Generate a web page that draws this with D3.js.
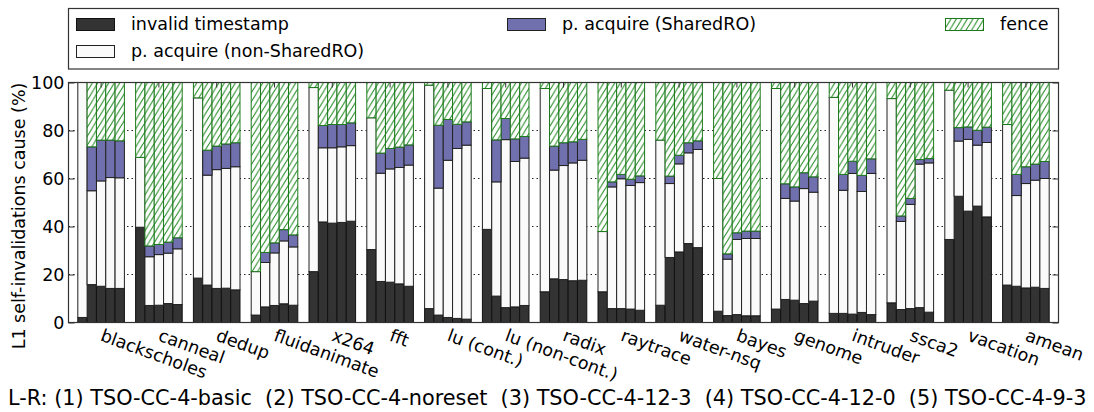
<!DOCTYPE html>
<html>
<head>
<meta charset="utf-8">
<script src="https://cdn.jsdelivr.net/npm/d3@7"></script>
<style>
  html, body { margin: 0; padding: 0; background: #fff; }
  svg { display: block; font-family: "DejaVu Sans", sans-serif; }
</style>
</head>
<body>
<svg id="chart" width="1094" height="412"></svg>
<script>
// Benchmarks (x groups) and protocol configurations (bars within a group, left to right)
const benchmarks = ["blackscholes", "canneal", "dedup", "fluidanimate", "x264", "fft",
  "lu (cont.)", "lu (non-cont.)", "radix", "raytrace", "water-nsq", "bayes", "genome",
  "intruder", "ssca2", "vacation", "amean"];
const configs = ["TSO-CC-4-basic", "TSO-CC-4-noreset", "TSO-CC-4-12-3", "TSO-CC-4-12-0", "TSO-CC-4-9-3"];

// Breakdown of L1 self-invalidation causes (%), one row per benchmark, one value per config
const invalidTimestamp = [
  [2.1, 15.8, 15.1, 14.2, 14.2],
  [39.7, 7.1, 7.2, 7.9, 7.5],
  [18.5, 15.6, 14.2, 14.3, 13.6],
  [3.1, 6.5, 7.1, 7.8, 7.2],
  [21.2, 41.9, 41.4, 41.7, 42.2],
  [30.4, 17.1, 16.8, 16.1, 15.1],
  [5.8, 3.1, 2.1, 1.7, 1.4],
  [38.8, 11.0, 6.2, 6.5, 7.1],
  [12.8, 18.2, 17.9, 17.4, 17.6],
  [12.8, 5.8, 5.8, 5.6, 5.1],
  [7.2, 27.1, 29.4, 32.9, 31.2],
  [4.7, 2.9, 3.3, 2.8, 2.8],
  [5.6, 9.6, 9.3, 7.9, 8.9],
  [3.8, 3.8, 3.5, 4.2, 3.3],
  [8.2, 5.4, 5.8, 6.2, 4.3],
  [34.6, 52.6, 46.4, 48.5, 44.0],
  [15.6, 15.1, 14.4, 14.7, 14.2]
];
const acquireNonShared = [
  [97.9, 39.1, 43.9, 46.2, 46.1],
  [29.1, 20.3, 21.1, 21.0, 23.2],
  [75.1, 45.8, 49.5, 49.9, 51.3],
  [18.1, 18.5, 21.9, 26.2, 24.3],
  [76.7, 30.9, 31.4, 31.5, 31.5],
  [54.9, 45.1, 47.2, 48.5, 50.5],
  [93.1, 52.9, 65.5, 70.8, 72.5],
  [58.7, 47.6, 70.0, 60.6, 61.4],
  [84.7, 45.3, 47.5, 49.1, 50.0],
  [25.1, 50.7, 54.1, 51.5, 53.2],
  [68.8, 30.8, 36.7, 37.8, 40.9],
  [55.3, 23.5, 31.3, 32.2, 32.2],
  [91.9, 42.1, 41.3, 47.9, 45.4],
  [90.0, 51.3, 58.6, 50.4, 58.8],
  [85.1, 36.7, 43.4, 59.8, 62.2],
  [62.2, 23.0, 29.9, 25.4, 31.0],
  [66.9, 37.8, 43.5, 44.6, 45.8]
];
const acquireShared = [
  [0, 18.3, 17.0, 15.6, 15.4],
  [0, 4.5, 4.2, 4.6, 4.6],
  [0, 10.4, 9.8, 10.2, 10.0],
  [0, 4.2, 4.2, 4.7, 5.0],
  [0, 9.3, 9.7, 9.3, 9.5],
  [0, 8.4, 8.5, 8.5, 8.4],
  [0, 26.2, 17.0, 10.1, 9.7],
  [0, 17.5, 8.8, 9.4, 9.0],
  [0, 10.0, 9.5, 8.8, 8.7],
  [0, 2.1, 1.8, 2.6, 2.8],
  [0, 3.1, 3.6, 4.2, 3.6],
  [0, 2.2, 2.8, 3.1, 3.1],
  [0, 6.1, 5.9, 6.6, 6.4],
  [0, 6.6, 5.1, 6.7, 6.1],
  [0, 2.3, 2.5, 1.9, 1.8],
  [0, 5.6, 5.2, 6.2, 6.4],
  [0, 8.8, 7.0, 6.7, 7.1]
];
const fence = [
  [0, 26.8, 24.0, 24.0, 24.3],
  [31.2, 68.1, 67.5, 66.5, 64.7],
  [6.4, 28.2, 26.5, 25.6, 25.1],
  [78.8, 70.8, 66.8, 61.3, 63.5],
  [2.1, 17.9, 17.5, 17.5, 16.8],
  [14.7, 29.4, 27.5, 26.9, 26.0],
  [1.1, 17.8, 15.4, 17.4, 16.4],
  [2.5, 23.9, 15.0, 23.5, 22.5],
  [2.5, 26.5, 25.1, 24.7, 23.7],
  [62.1, 41.4, 38.3, 40.3, 38.9],
  [24.0, 39.0, 30.3, 25.1, 24.3],
  [40.0, 71.4, 62.6, 61.9, 61.9],
  [2.5, 42.2, 43.5, 37.6, 39.3],
  [6.2, 38.3, 32.8, 38.7, 31.8],
  [6.7, 55.6, 48.3, 32.1, 31.7],
  [3.2, 18.8, 18.5, 19.9, 18.6],
  [17.5, 38.3, 35.1, 34.0, 32.9]
];

const seriesKeys = ["invalid", "nonShared", "shared", "fence"];
const seriesLabels = {
  invalid: "invalid timestamp",
  nonShared: "p. acquire (non-SharedRO)",
  shared: "p. acquire (SharedRO)",
  fence: "fence"
};
const yTicks = [0, 20, 40, 60, 80, 100];
const yTitle = "L1 self-invalidations cause (%)";
const caption = "L-R: (1) TSO-CC-4-basic  (2) TSO-CC-4-noreset  (3) TSO-CC-4-12-3  (4) TSO-CC-4-12-0  (5) TSO-CC-4-9-3";

// Flatten into one row per bar
const rows = [];
benchmarks.forEach((b, i) => {
  configs.forEach((c, j) => {
    rows.push({
      bench: b, config: c,
      invalid: invalidTimestamp[i][j],
      nonShared: acquireNonShared[i][j],
      shared: acquireShared[i][j],
      fence: fence[i][j]
    });
  });
});

const svg = d3.select("#chart");
const FS = 17.5;
const plot = { left: 68.5, right: 1058.5, top: 82.5, bottom: 322.5 };

const x0 = d3.scaleBand().domain(benchmarks)
  .range([plot.left, plot.right]).paddingInner(0.194).paddingOuter(0.161);
const x1 = d3.scaleBand().domain(configs).range([0, x0.bandwidth()]);
const y = d3.scaleLinear().domain([0, 100]).range([plot.bottom, plot.top]);

const fills = { invalid: "#333333", nonShared: "#fafafa", shared: "#7070ae", fence: "url(#hatch)" };
const strokes = { invalid: "#111", nonShared: "#222", shared: "#222", fence: "#1c7a1c" };

// Diagonal hatch used for the fence segments
const defs = svg.append("defs");
const pat = defs.append("pattern").attr("id", "hatch")
  .attr("patternUnits", "userSpaceOnUse").attr("width", 5.5).attr("height", 9);
pat.append("rect").attr("width", 5.5).attr("height", 9).attr("fill", "#fff");
pat.append("path")
  .attr("d", "M0,9 L5.5,0 M-5.5,9 L0,0 M5.5,9 L11,0")
  .attr("stroke", "#2b8f2b").attr("stroke-width", 1.1).attr("fill", "none");

// Dotted horizontal grid
svg.append("g").selectAll("line").data(yTicks.filter(t => t > 0 && t < 100)).join("line")
  .attr("x1", plot.left).attr("x2", plot.right)
  .attr("y1", d => y(d)).attr("y2", d => y(d))
  .attr("stroke", "#222").attr("stroke-width", 1).attr("stroke-dasharray", "1.5,3");

// Stacked bars
const stacked = d3.stack().keys(seriesKeys)(rows);
const barLayer = svg.append("g");
stacked.forEach(layer => {
  const key = layer.key;
  barLayer.append("g").selectAll("rect").data(layer).join("rect")
    .attr("x", d => x0(d.data.bench) + x1(d.data.config))
    .attr("width", x1.bandwidth())
    .attr("y", d => y(d[1]))
    .attr("height", d => Math.max(0, y(d[0]) - y(d[1])))
    .attr("fill", fills[key])
    .attr("stroke", d => (d[1] - d[0]) > 0 ? strokes[key] : "none")
    .attr("stroke-width", 1);
});

// Frame
svg.append("rect")
  .attr("x", plot.left).attr("y", plot.top)
  .attr("width", plot.right - plot.left).attr("height", plot.bottom - plot.top)
  .attr("fill", "none").attr("stroke", "#333").attr("stroke-width", 1.2);

// Y axes (left labelled, right mirrored ticks only)
const yAxisL = svg.append("g").attr("transform", `translate(${plot.left},0)`)
  .call(d3.axisLeft(y).tickValues(yTicks).tickSize(-6).tickPadding(4));
yAxisL.select(".domain").remove();
yAxisL.selectAll("text").attr("font-size", FS).attr("fill", "#000")
  .attr("font-family", "DejaVu Sans, sans-serif");
yAxisL.selectAll("line").attr("stroke", "#333");

const yAxisR = svg.append("g").attr("transform", `translate(${plot.right},0)`)
  .call(d3.axisRight(y).tickValues(yTicks).tickSize(-6).tickFormat(""));
yAxisR.select(".domain").remove();
yAxisR.selectAll("line").attr("stroke", "#333");

// X axes: ticks at group centres, rotated benchmark names below
const xAxisB = svg.append("g").attr("transform", `translate(0,${plot.bottom})`)
  .call(d3.axisBottom(x0).tickSize(-5).tickPadding(0));
xAxisB.select(".domain").remove();
xAxisB.selectAll("line").attr("stroke", "#333");
xAxisB.selectAll("text")
  .attr("font-size", FS).attr("fill", "#000").attr("font-family", "DejaVu Sans, sans-serif")
  .attr("text-anchor", "start")
  .attr("x", 0).attr("y", 0).attr("dy", "0.78em")
  .attr("transform", "translate(3,5) rotate(20)");

const xAxisT = svg.append("g").attr("transform", `translate(0,${plot.top})`)
  .call(d3.axisTop(x0).tickSize(-5).tickFormat(""));
xAxisT.select(".domain").remove();
xAxisT.selectAll("line").attr("stroke", "#333");

// Y title
svg.append("text")
  .attr("transform", "translate(25,216) rotate(-90)")
  .attr("text-anchor", "middle").attr("font-size", FS).text(yTitle);

// Legend
const legend = svg.append("g");
legend.append("rect").attr("x", 68.5).attr("y", 8.5).attr("width", 990).attr("height", 60.5)
  .attr("fill", "#fff").attr("stroke", "#333").attr("stroke-width", 1.2);
const legendItems = [
  { key: "invalid", x: 76, y: 18 },
  { key: "nonShared", x: 76, y: 45 },
  { key: "shared", x: 507, y: 18 },
  { key: "fence", x: 945, y: 18 }
];
legendItems.forEach(it => {
  legend.append("rect").attr("x", it.x + 0.5).attr("y", it.y + 0.5)
    .attr("width", 38).attr("height", 12)
    .attr("fill", fills[it.key]).attr("stroke", strokes[it.key]).attr("stroke-width", 1);
  legend.append("text").attr("x", it.x + 55).attr("y", it.y + 6)
    .attr("dy", "0.35em").attr("font-size", FS).text(seriesLabels[it.key]);
});

// Configuration key under the chart
svg.append("text").attr("x", 8).attr("y", 398).attr("dy", "0.35em")
  .attr("font-size", 20.8).style("white-space", "pre").text(caption);
</script>
</body>
</html>
